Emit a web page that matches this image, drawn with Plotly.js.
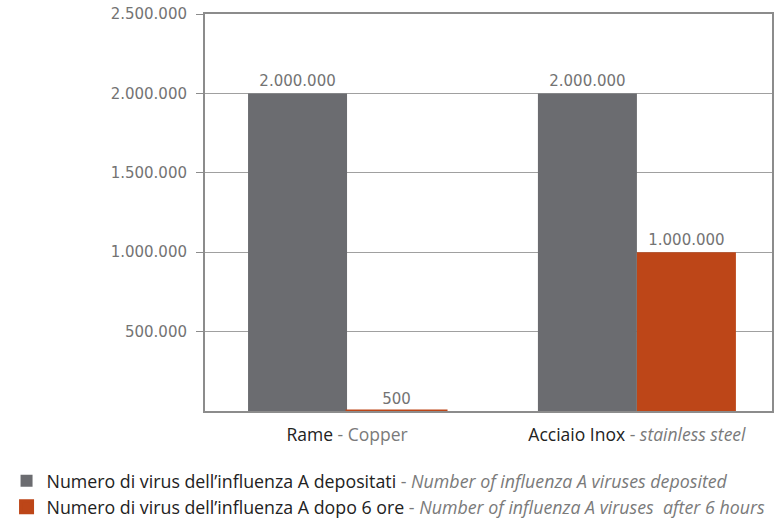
<!DOCTYPE html>
<html>
<head>
<meta charset="utf-8">
<script src="https://cdn.plot.ly/plotly-3.0.1.min.js"></script>
<style>html,body{margin:0;padding:0;background:#fff;}#chart{width:779px;height:524px;}</style>
</head>
<body>
<div id="chart"></div>
<script>
const categories = ["Rame", "Acciaio Inox"];
const categoryLabels = [
  "Rame <span style='color:#7a7a7a'>- Copper</span>",
  "Acciaio Inox <span style='color:#7a7a7a'>- <i>stainless steel</i></span>"
];
const deposited = [2000000, 2000000];
const after6h = [500, 1000000];
const seriesNames = [
  "Numero di virus dell’influenza A depositati <span style='color:#7a7a7a'>- <i>Number of influenza A viruses deposited</i></span>",
  "Numero di virus dell’influenza A dopo 6 ore <span style='color:#7a7a7a'>- <i>Number of influenza A viruses  after 6 hours</i></span>"
];
const yTickVals = [500000, 1000000, 1500000, 2000000, 2500000];
const yTickText = ["500.000", "1.000.000", "1.500.000", "2.000.000", "2.500.000"];

const numFont = {family: "'DejaVu Sans', sans-serif", size: 15, color: "#737373"};

const traces = [
  {
    type: "bar", x: categories, y: deposited, name: seriesNames[0],
    marker: {color: "#6b6c70"},
    text: deposited.map(v => v.toLocaleString("de-DE")),
    textposition: "outside", textfont: numFont, cliponaxis: false
  },
  {
    type: "bar", x: categories, y: after6h, name: seriesNames[1],
    marker: {color: "#bd4618", line: {color: "#bd4618", width: [3, 0]}},
    text: after6h.map(v => v.toLocaleString("de-DE")),
    textposition: "outside", textfont: numFont, cliponaxis: false
  }
];

const layout = {
  width: 779, height: 524,
  margin: {l: 205, r: 7, t: 14, b: 113, autoexpand: false},
  paper_bgcolor: "#ffffff", plot_bgcolor: "#ffffff",
  barmode: "group", bargap: 0.317, bargroupgap: 0,
  separators: ",.",
  font: {family: "'Open Sans', sans-serif", color: "#333"},
  xaxis: {
    range: [-0.49, 1.466],
    tickvals: categories, ticktext: categoryLabels,
    tickfont: {family: "'Open Sans', sans-serif", size: 17.5, color: "#222"},
    showline: true, mirror: true, linecolor: "#8c8c8c", linewidth: 2,
    ticks: "", showgrid: false, fixedrange: true,
    ticklabelstandoff: 7
  },
  yaxis: {
    range: [0, 2500000],
    tickvals: yTickVals, ticktext: yTickText,
    tickfont: numFont,
    showline: true, mirror: true, linecolor: "#8c8c8c", linewidth: 2,
    ticks: "outside", ticklen: 7, tickcolor: "#8c8c8c", tickwidth: 1,
    ticklabelstandoff: 6,
    showgrid: true, gridcolor: "#a0a0a0", gridwidth: 1,
    zeroline: false
  },
  showlegend: true,
  legend: {
    x: -0.35, y: -0.13, xanchor: "left", yanchor: "top",
    font: {family: "'Open Sans', sans-serif", size: 17.8, color: "#222"}, tracegroupgap: 0,
    traceorder: "normal", bgcolor: "rgba(0,0,0,0)"
  }
};

Plotly.newPlot("chart", traces, layout, {displayModeBar: false, staticPlot: true});
</script>
</body>
</html>
